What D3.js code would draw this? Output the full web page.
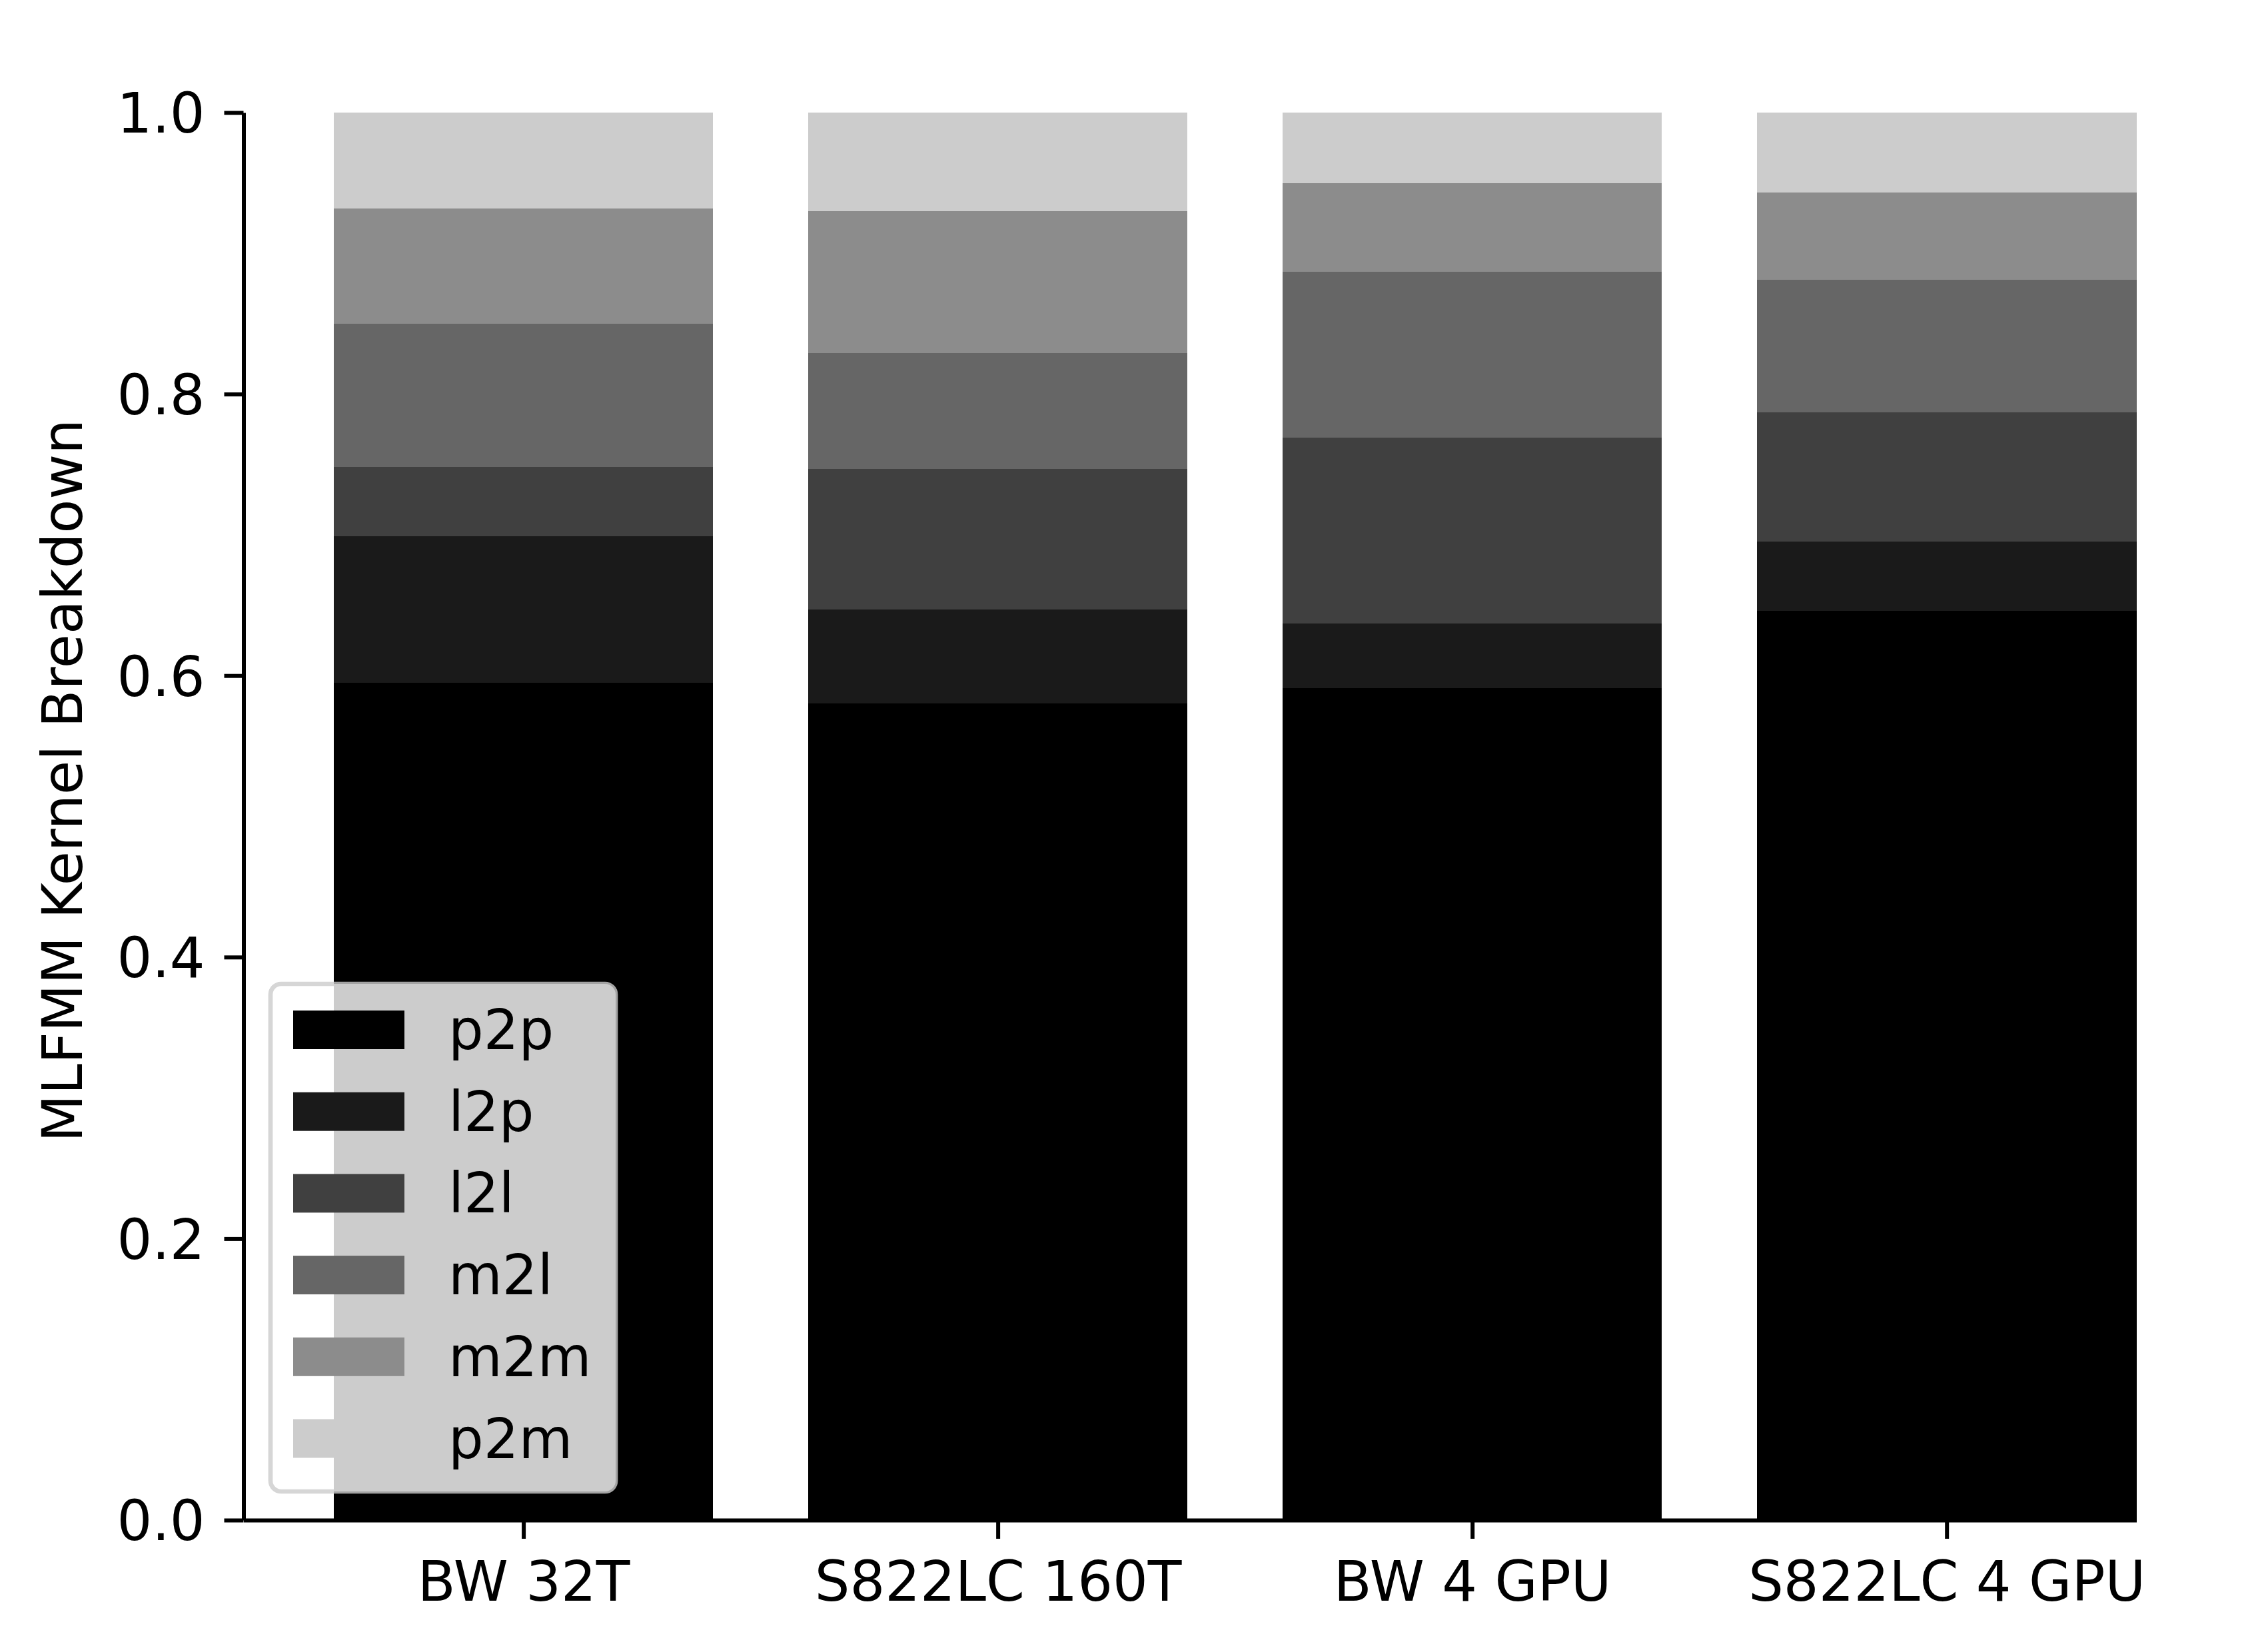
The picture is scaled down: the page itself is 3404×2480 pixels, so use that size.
<!DOCTYPE html>
<html>
<head>
<meta charset="utf-8">
<script src="https://cdn.jsdelivr.net/npm/d3@7"></script>
<style>
  html, body { margin: 0; padding: 0; background: #ffffff; }
  svg { display: block; }
  text { font-family: "DejaVu Sans", sans-serif; }
</style>
</head>
<body>
<script>
// ---- data ----
const categories = ["BW 32T", "S822LC 160T", "BW 4 GPU", "S822LC 4 GPU"];
const seriesNames = ["p2p", "l2p", "l2l", "m2l", "m2m", "p2m"];
const p2p = [0.595, 0.580, 0.591, 0.646];
const l2p = [0.104, 0.067, 0.046, 0.049];
const l2l = [0.049, 0.100, 0.132, 0.092];
const m2l = [0.102, 0.082, 0.118, 0.094];
const m2m = [0.082, 0.101, 0.063, 0.062];
const p2m = [0.068, 0.070, 0.050, 0.057];
const seriesColors = ["#000000", "#1a1a1a", "#404040", "#666666", "#8c8c8c", "#cccccc"];
const yTicks = [0.0, 0.2, 0.4, 0.6, 0.8, 1.0];
const yLabel = "MLFMM Kernel Breakdown";

// ---- layout ----
const W = 3404, H = 2480;
const FS = 83;
const svg = d3.select("body").append("svg").attr("width", W).attr("height", H);

const x = d3.scaleLinear().domain([-0.59, 3.4]).range([365.5, 3206.5]);
const y = d3.scaleLinear().domain([0, 1]).range([2282, 169]);
const barW = x(0.4) - x(-0.4);

const seriesData = [p2p, l2p, l2l, m2l, m2m, p2m];
const rows = categories.map((c, i) => {
  const r = { cat: c, idx: i };
  seriesNames.forEach((s, k) => r[s] = seriesData[k][i]);
  return r;
});
const stacked = d3.stack().keys(seriesNames)(rows);

const gBars = svg.append("g");
stacked.forEach((layer, k) => {
  gBars.selectAll(null).data(layer).enter().append("rect")
    .attr("x", d => x(d.data.idx) - barW / 2)
    .attr("width", barW)
    .attr("y", d => y(d[1]))
    .attr("height", d => y(d[0]) - y(d[1]))
    .attr("fill", seriesColors[k])
    .attr("shape-rendering", "crispEdges");
});

// ---- axes ----
const yAxis = svg.append("g").attr("transform", `translate(${x(-0.59)},0)`)
  .call(d3.axisLeft(y).tickValues(yTicks).tickFormat(d3.format(".1f"))
    .tickSize(29).tickPadding(29).tickSizeOuter(0));
const xAxis = svg.append("g").attr("transform", `translate(0,${y(0)})`)
  .call(d3.axisBottom(x).tickValues(d3.range(categories.length))
    .tickFormat(i => categories[i]).tickSize(28).tickPadding(34).tickSizeOuter(0));

[yAxis, xAxis].forEach(g => {
  g.select(".domain").attr("stroke", "#000").attr("stroke-width", 6);
  g.selectAll(".tick line").attr("stroke", "#000").attr("stroke-width", 6);
  g.selectAll(".tick text").attr("fill", "#000")
    .style("font-family", "'DejaVu Sans', sans-serif").style("font-size", FS + "px");
});
yAxis.selectAll(".tick text").attr("dy", "0.36em");

// y label
svg.append("text")
  .attr("transform", "translate(123,1172) rotate(-90)")
  .attr("text-anchor", "middle")
  .style("font-size", FS + "px")
  .attr("fill", "#000")
  .text(yLabel);

// ---- legend ----
const lg = svg.append("g");
lg.append("rect")
  .attr("x", 406).attr("y", 1477).attr("width", 518).attr("height", 762)
  .attr("rx", 16).attr("ry", 16)
  .attr("fill", "#ffffff").attr("fill-opacity", 0.8)
  .attr("stroke", "#cccccc").attr("stroke-opacity", 0.8).attr("stroke-width", 6.7);
const rowY0 = 1546, rowStep = 122.7;
seriesNames.forEach((s, k) => {
  const cy = rowY0 + k * rowStep;
  lg.append("rect")
    .attr("x", 440).attr("y", cy - 29).attr("width", 167).attr("height", 58)
    .attr("fill", seriesColors[k]);
  lg.append("text")
    .attr("x", 673).attr("y", cy + 29)
    .style("font-size", FS + "px").attr("fill", "#000")
    .text(s);
});
</script>
</body>
</html>
